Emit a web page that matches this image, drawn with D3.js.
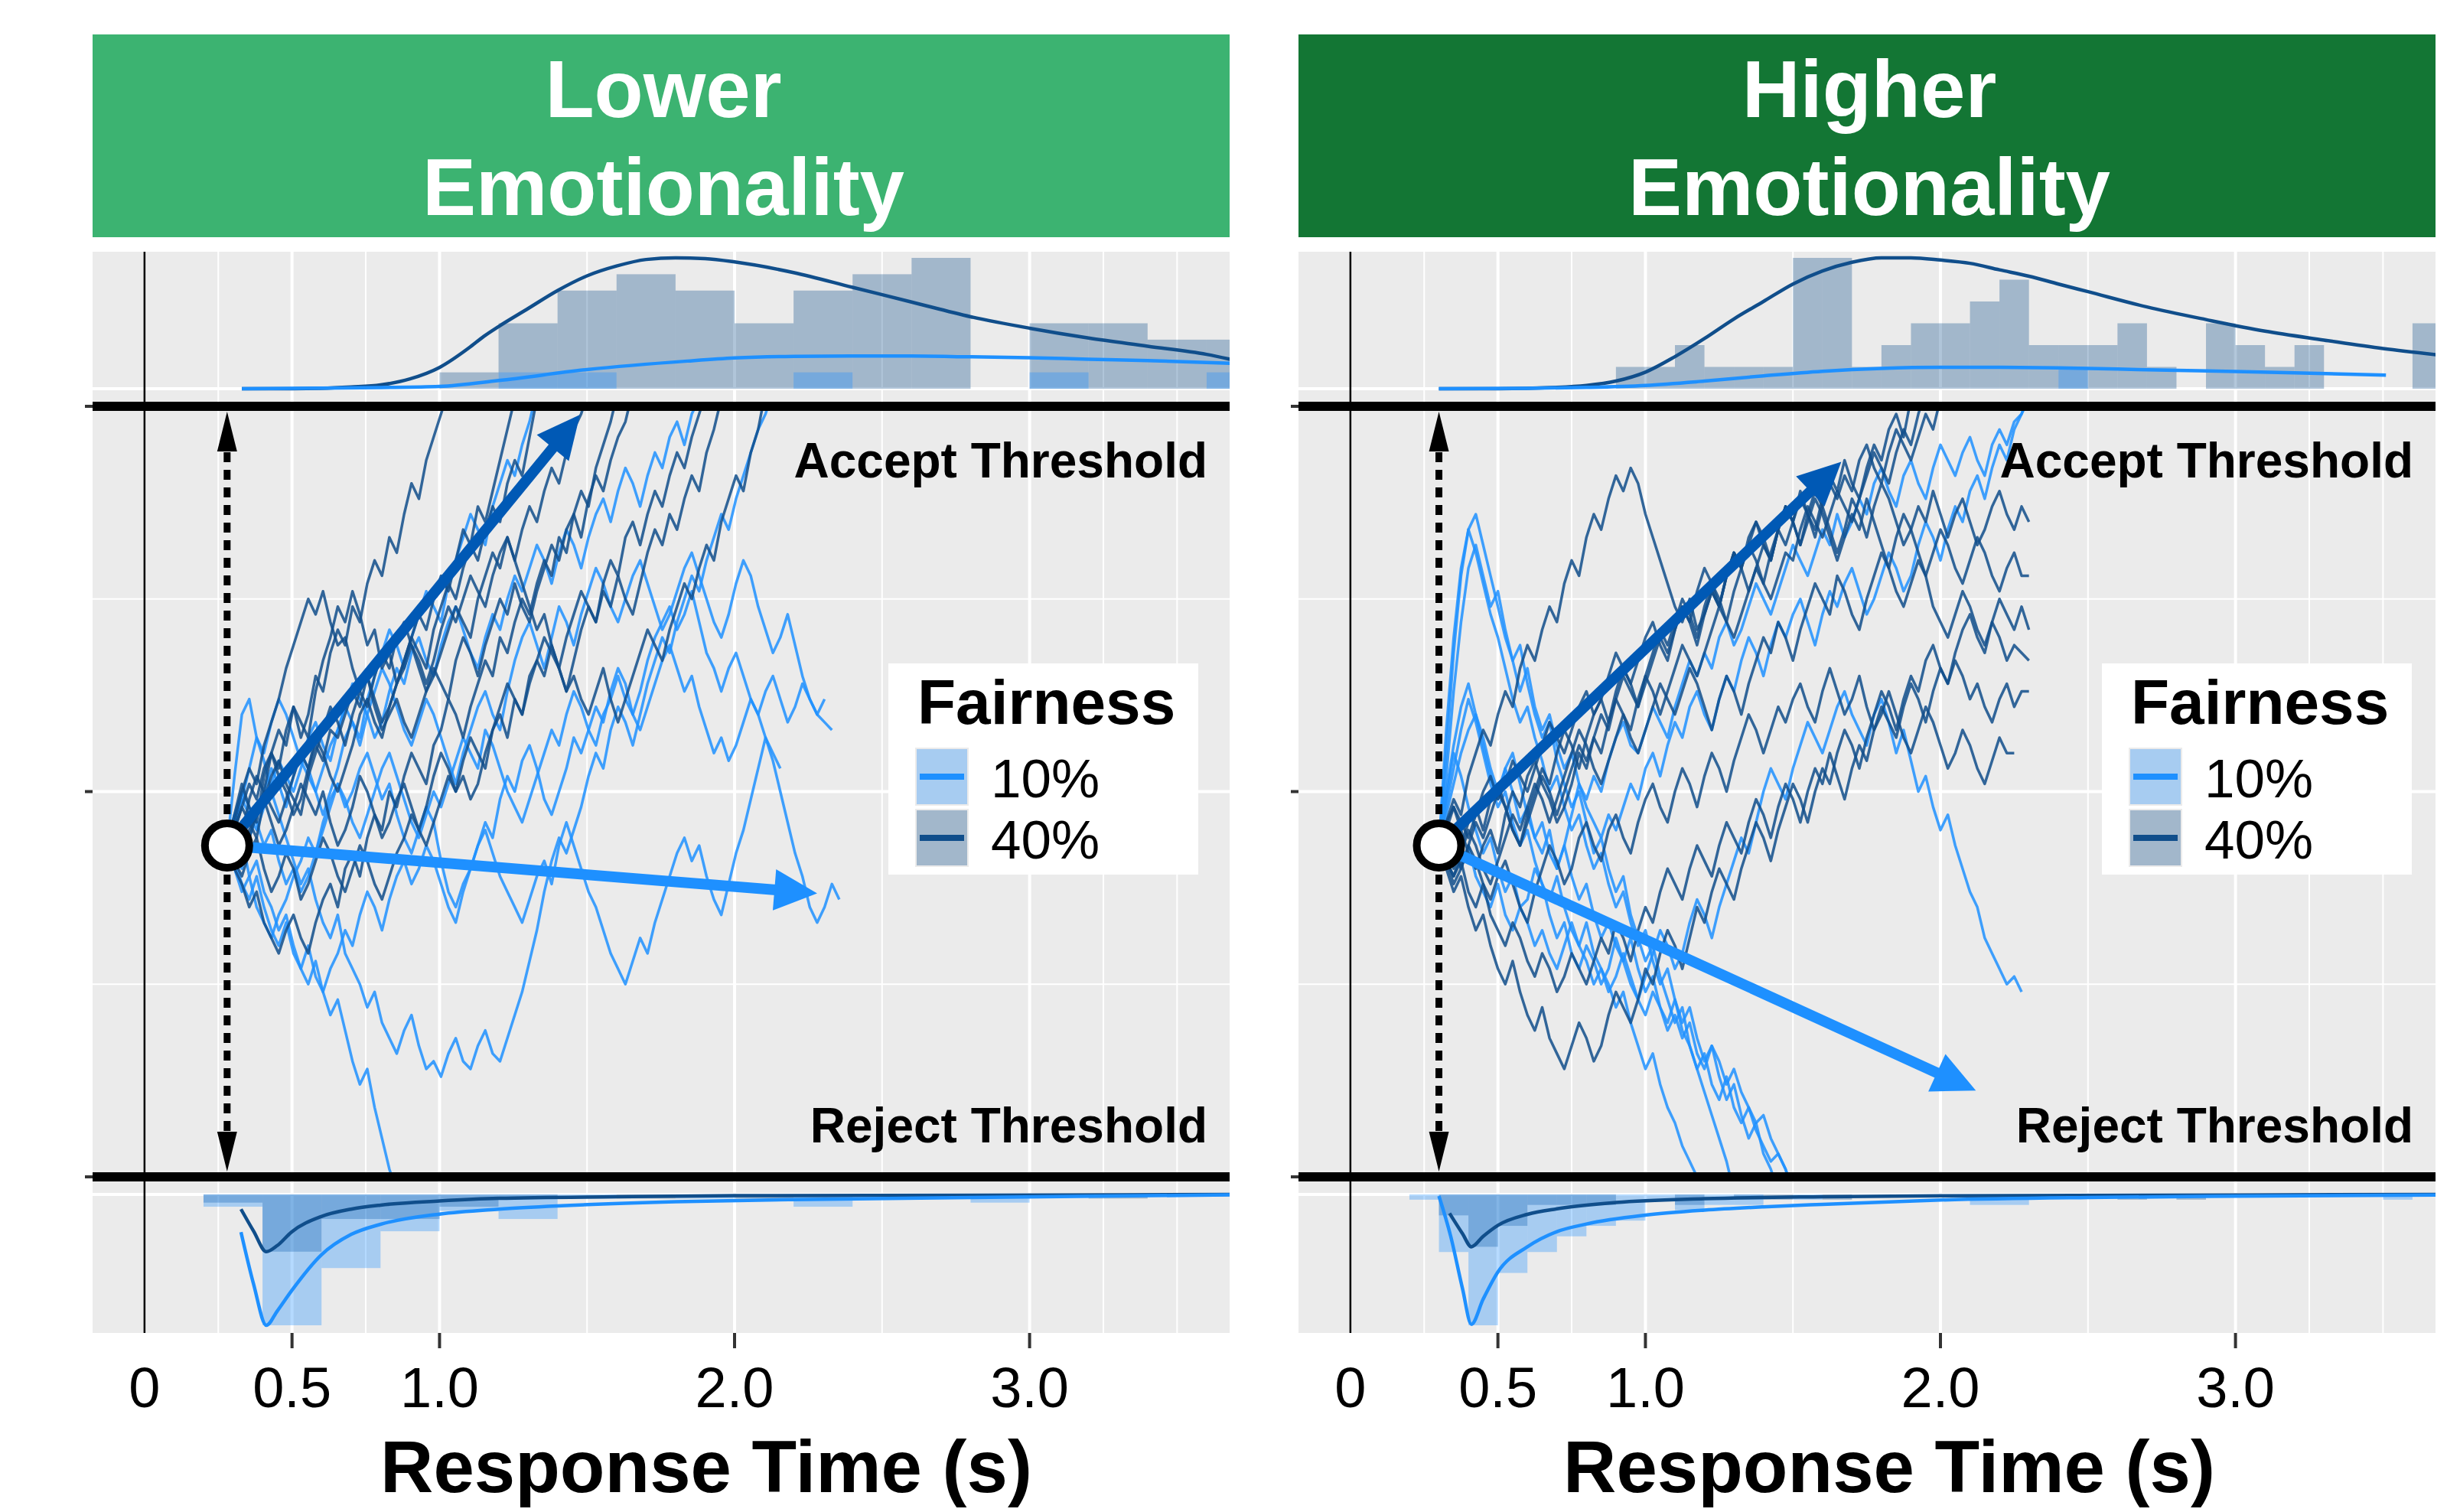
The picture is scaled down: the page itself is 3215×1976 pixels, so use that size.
<!DOCTYPE html>
<html>
<head>
<meta charset="utf-8">
<script src="https://cdn.jsdelivr.net/npm/d3@7"></script>
<style>
body { margin: 0; background: #fff; }
svg { display: block; font-family: "Liberation Sans", Arial, Helvetica, sans-serif; }
</style>
</head>
<body>
<div class="chart"></div>
<script>
var width = 3215;
var height = 1976;
var panelW = 1486;

// ---- data ----
var stripLabels = [["Lower", "Emotionality"], ["Higher", "Emotionality"]];
var fairness = ["10%", "40%"];
var xTicks = [0, 0.5, 1, 2, 3];
var xTickLabels = ["0", "0.5", "1.0", "2.0", "3.0"];
var xMajorGrid = [0.5, 1, 2, 3];
var xMinorGrid = [0.25, 0.75, 1.5, 2.5, 3.25, 3.5];
var yMajor = [0, 0.5, 1];
var yMinor = [0.25, 0.75];
var nonDecision = [0.28, 0.30];   // s, start of accumulation
var startPoint = [0.43, 0.43];    // relative to threshold separation
var walkStep = 0.025;             // s between trace samples

// drift arrow end points [time, evidence]
var lowerArrow40 = [1.476, 0.989];
var lowerArrow10 = [2.28, 0.368];
var higherArrow40 = [1.664, 0.928];
var higherArrow10 = [2.12, 0.112];

// histogram counts (accept = top margin, reject = bottom margin)
var lowerAccept40 = [1, 4, 6, 7, 6, 4, 6, 7, 8, 0, 4, 4, 3, 3];      // 0.2 s bins from 1.0 s
var lowerAccept10 = [0, 1, 1, 0, 0, 0, 1, 0, 0, 0, 1, 0, 0, 1];
var lowerReject40 = [2, 14, 6, 6, 3, 1, 0, 1, 0, 1, 0, 0, 0, 0, 0, 1]; // 0.2 s bins from 0.2 s
var lowerReject10 = [3, 32, 18, 9, 4, 6, 1, 0, 1, 0, 3, 0, 0, 2, 0, 0];
var higherAccept40 = [1, 1, 2, 1, 1, 1, 6, 6, 1, 2, 3, 3, 4, 5, 2, 2, 2, 3, 1, 0, 3, 2, 1, 2, 0, 0, 0, 3]; // 0.1 s bins from 0.9 s
var higherAccept10 = [0, 0, 0, 0, 0, 0, 0, 0, 0, 0, 0, 0, 0, 0, 0, 1];
var higherReject40 = [0, 4, 10, 6, 2, 2, 2, 0, 0, 2, 0, 1, 1, 0, 1, 0, 0, 0, 0, 0, 0, 0, 0, 0, 1, 0, 1]; // 0.1 s bins from 0.2 s
var higherReject10 = [1, 11, 25, 15, 11, 8, 6, 5, 1, 3, 2, 2, 0, 1, 0, 0, 0, 0, 0, 2, 2, 0, 0, 0, 0, 0, 0, 0, 0, 0, 0, 0, 0, 1];

// predicted densities (time, height in count units)
var lowerAcceptT40 = [0.33, 0.5, 0.6, 0.7, 0.8, 0.9, 1.0, 1.1, 1.15, 1.2, 1.3, 1.4, 1.5, 1.6, 1.7, 1.8, 1.9, 2.0, 2.2, 2.4, 2.6, 2.8, 3.0, 3.2, 3.4, 3.6, 3.68];
var lowerAcceptD40 = [0, 0, 0.02, 0.1, 0.23, 0.6, 1.3, 2.5, 3.2, 3.8, 4.9, 6.0, 6.9, 7.5, 7.9, 8.0, 7.95, 7.75, 7.1, 6.2, 5.3, 4.4, 3.7, 3.1, 2.6, 2.1, 1.8];
var lowerAcceptT10 = [0.33, 0.6, 0.8, 1.0, 1.2, 1.5, 1.84, 2.0, 2.2, 2.4, 2.6, 2.8, 3.0, 3.2, 3.4, 3.68];
var lowerAcceptD10 = [0, 0.03, 0.07, 0.14, 0.5, 1.17, 1.69, 1.88, 1.98, 2.0, 2.0, 1.95, 1.9, 1.8, 1.72, 1.56];
var lowerRejectT40 = [0.327, 0.37, 0.413, 0.45, 0.498, 0.599, 0.70, 0.80, 1.0, 1.2, 1.6, 2.0, 2.8, 3.68];
var lowerRejectD40 = [3.6, 9, 14, 12.5, 9.2, 5.4, 3.6, 2.6, 1.6, 0.94, 0.56, 0.3, 0.2, 0];
var lowerRejectT10 = [0.327, 0.37, 0.413, 0.45, 0.498, 0.599, 0.70, 0.80, 1.0, 1.2, 1.4, 1.8, 2.2, 2.8, 3.68];
var lowerRejectD10 = [9.2, 22, 32, 28.5, 23.6, 14.8, 9.8, 7.3, 4.8, 3.6, 2.8, 1.8, 1.25, 0.75, 0.1];
var higherAcceptT40 = [0.3, 0.5, 0.7, 0.8, 0.9, 1.0, 1.1, 1.2, 1.3, 1.4, 1.5, 1.6, 1.7, 1.8, 1.9, 2.0, 2.1, 2.2, 2.3, 2.4, 2.5, 2.7, 2.9, 3.1, 3.3, 3.5, 3.68];
var higherAcceptD40 = [0, 0, 0.06, 0.15, 0.35, 0.76, 1.47, 2.3, 3.2, 4.0, 4.8, 5.4, 5.8, 6.0, 6.0, 5.9, 5.75, 5.45, 5.16, 4.8, 4.45, 3.75, 3.17, 2.64, 2.23, 1.84, 1.56];
var higherAcceptT10 = [0.3, 0.6, 0.8, 1.0, 1.2, 1.4, 1.6, 1.8, 2.0, 2.2, 2.4, 2.6, 2.8, 3.0, 3.2, 3.51];
var higherAcceptD10 = [0, 0.02, 0.06, 0.15, 0.35, 0.59, 0.8, 0.93, 0.98, 0.98, 0.96, 0.9, 0.84, 0.79, 0.73, 0.62];
var higherRejectT40 = [0.336, 0.38, 0.41, 0.45, 0.5, 0.6, 0.7, 0.9, 1.2, 1.6, 2.0, 3.0, 3.68];
var higherRejectD40 = [3.6, 7.5, 10, 8, 5.9, 3.8, 2.75, 1.55, 0.82, 0.43, 0.24, 0.1, 0];
var higherRejectT10 = [0.30, 0.34, 0.38, 0.41, 0.45, 0.5, 0.6, 0.7, 0.8, 1.0, 1.2, 1.4, 1.6, 2.0, 2.5, 3.0, 3.68];
var higherRejectD10 = [0.3, 8, 18, 24.8, 20, 14.8, 10, 7.1, 5.65, 3.96, 3.0, 2.37, 1.9, 1.06, 0.58, 0.34, 0.1];

// example evidence traces, % of threshold separation, one sample per walkStep
var lowerWalks40 = [
  [43,46,44,49,52,50,55,53,58,61,57,60,65,63,68,71,69,74,72,77,80,78,83,81,86,90,88,93,96,99,102],
  [43,47,51,48,46,52,55,58,56,61,59,57,63,67,70,74,72,76,73,69,71,66,68,64,67,70,73,71,75,78,76,80,84,82,87,85,89,93,97,101],
  [43,40,38,35,37,33,31,29,32,34,31,29,33,36,38,35,40,42,39,44,47,45,50,48,52,55,53,51,56,58,62,60,57,61,64,67,65,70,68,72,75,73,77,80,78,83,81,86,89,87,92,95,98,102],
  [43,45,42,44,47,49,46,43,45,48,51,49,47,50,46,43,45,48,52,50,47,44,46,49,51,48,45,48,52,55,53,50,52,49,51,55,58,60,57,62,60,64,67,65,69,66,63,67,71,74,72,76,74,78,75,73,77,81,84,82,86,84,88,91,89,94,97,101],
  [43,45,48,46,44,49,52,54,51,49,47,52,55,58,61,59,56,60,63,61,65,68,66,70,72,69,66,63,65,68,71,74,72,70,75,78,81,79,83,80,84,87,85,89,92,90,94,97,99,102],
  [43,46,50,53,51,56,59,62,66,69,72,75,73,76,72,69,70,66,63,65,61,58,60,62,59,57,60,63,66,64,62,67,70,68,65,69,72,75,73,77,74,72,76,79,82,80,84,86,83,88,91,89,93,96,98,102],
  [43,41,39,42,44,40,37,39,42,40,36,38,41,44,42,39,37,40,43,41,38,36,39,42,44,47,45,43,46,49,52,50,54,57,55,53,58,61,64,62,60,65,67,70,68,66,70,73,76,74,72,77,80,78,83,85,82,86,89,87,91,94,92,96,99,102],
  [43,45,48,51,49,53,55,52,50,47,49,53,56,54,58,57,60,63,61,65,62,59,61,64,67,70,68,66,71,74,77,75,79,82,80,84,87,85,90,93,91,96,101],
  [43,44,42,45,47,50,48,46,49,52,55,53,57,55,52,50,53,56,60,62,59,57,61,64,66,69,67,64,67,71,74,72,75,78,76,74,78,81,83,80,77,74,71,73,69,66,63,65,62,60,63,66,62,59,62,65,68,71,69,67,71,74,77,75,79,82,80,85,88,91,89,94,97,102]
];
var lowerWalks10 = [
  [43,47,44,39,41,37,35,32,34,30,27,25,28,24,21,23,19,15,12,14,9,5,1,-2],
  [43,52,60,62,57,54,50,47,44,41,38,40,36,33,31,34,29,27,25,22,24,20,18,16,19,21,17,14,15,13,16,18,15,14,17,19,16,15,18,21,24,28,32,37,41,44,42,45,48,52,55,53,58,61,59,56,60,64,67,70,68,72,75,78,76,80,83,86,84,88,91,94,97,99,102],
  [43,40,37,39,35,33,31,34,36,39,41,44,42,46,49,51,48,50,53,55,52,49,51,47,44,42,45,48,46,41,37,35,38,40,43,45,42,39,37,35,33,36,39,41,38,43,46,43,40,37,35,32,29,27,25,28,31,29,33,36,39,42,44,41,43,39,36,34,38,42,45,49,53,57,54,50,46,42,39,35,33,35,38,36],
  [43,42,40,44,47,50,53,51,48,52,55,53,50,47,50,53,57,59,56,60,63,66,64,61,58,56,59,62,60,57,54,51,55,58,61,63,60,58,63,67,70,72,69,66,70,74,72,69,73,76,79,77,74,72,75,78,80,77,74,71,73,76,79,81,78,75,72,70,73,77,80,78,74,71,68,70,73,69,65,62,60,59,58],
  [43,46,49,47,45,48,51,54,52,50,53,57,59,56,54,58,61,64,62,60,57,59,63,66,64,68,70,67,65,69,72,74,71,68,66,70,73,71,75,78,76,79,82,80,77,81,84,82,79,83,86,88,85,89,92,90,87,91,94,92,96,98,95,99,101],
  [43,41,38,36,39,35,32,30,33,29,27,30,26,24,27,29,32,30,34,37,35,32,36,39,41,38,40,43,41,38,35,33,37,40,43,46,44,49,52,50,54,56,53,49,47,50,53,57,55,58,61,59,63,66,64,60,58,61,64,67,69,66,63,65,61,58,55,57,54,56,59,62,60,57,55,53],
  [43,46,49,53,57,55,59,62,60,57,54,52,50,53,56,58,61,59,57,62,65,68,71,69,66,70,73,76,74,72,77,80,83,86,84,82,87,90,93,91,95,98,102],
  [43,47,50,48,46,43,45,41,38,40,37,39,42,45,48,51,49,46,44,47,50,53,55,52,49,46,44,47,50,48,51,54,57,55,53,58,56,53,50,48,46,49,52,55,58,56,60,63,61,58,56,60,62,65,62,60,63,67,70,72,74,71,73,76,72,68,66,63,66,68,65,62,60,63,65,62,59,61,64,62,60,62]
];
var higherWalks40 = [
  [43,40,37,39,35,32,34,30,27,25,28,24,21,19,22,18,16,14,17,20,18,15,17,21,24,22,20,23,27,25,29,32,30,27,31,35,33,37,40,38,36,40,43,46,44,41,45,48,51,49,46,50,53,51,55,58,56,53,57,60,63,61,58,62,65,63,67,69,66,64,68,71,73,70,68,72,75,73,71,74,71],
  [43,45,48,46,44,47,50,52,49,51,54,52,50,53,56,59,57,55,58,61,63,60,62,65,68,66,64,67,70,72,69,67,71,74,72,76,79,77,74,78,81,79,83,85,82,80,84,87,85,89,86,84,88,91,89,93,90,88,92,95,93,97,99,96,101],
  [43,41,39,42,45,43,40,38,41,44,47,45,48,51,49,46,49,52,55,58,56,53,51,54,57,60,58,62,65,63,60,63,66,69,67,65,68,71,74,72,70,73,76,79,77,75,78,81,80,84,87,85,83,86,89,87,85,88,91,94,92,90,94,97,95,99,102],
  [43,46,48,45,42,40,43,45,42,47,50,48,52,54,51,49,46,48,51,55,53,57,55,59,62,60,57,55,58,61,64,62,60,63,66,64,61,58,62,65,63,60,64,67,70,68,72,70,67,71,74,77,75,73,78,76,73,71,75,78,81,79,76,74,77,80,78,74,72,70,73,76,74,71,69,72,70,67,69,68,67],
  [43,41,38,40,43,41,38,36,39,41,38,35,33,37,40,43,41,38,40,44,46,43,41,45,47,44,42,46,49,51,48,46,50,53,51,48,52,55,53,50,54,57,60,58,55,58,61,59,62,64,61,59,63,66,63,60,62,65,61,58,60,63,60,57,55,58,61,59,56,53,55,58,56,53,51,54,57,55,55],
  [43,46,49,47,52,55,58,56,60,63,61,66,69,67,71,74,72,77,80,78,83,86,84,88,91,89,92,90,86,83,80,77,74,72,75,71,73,76,74,78,81,79,82,85,83,80,84,87,85,82,86,89,87,84,81,84,88,86,83,87,90,88,85,82,84,87,85,89,86,83,86,88,85,82,84,87,89,86,84,87,85],
  [43,45,43,40,43,46,44,47,50,48,45,43,46,49,52,50,47,50,53,56,54,57,60,58,62,65,63,61,64,67,70,68,71,74,72,69,73,76,74,78,81,79,76,79,82,80,84,87,85,82,85,88,86,83,80,83,86,84,88,85,82,79,83,86,84,81,78,81,84,82,79,77,80,83,81,78,76,79,81,78,78],
  [43,42,40,43,46,48,45,49,51,48,45,43,47,50,53,51,55,58,56,53,57,60,62,59,63,66,64,61,65,68,71,69,72,75,73,70,74,77,75,72,76,79,82,80,77,81,84,82,85,88,86,83,87,90,88,91,89,93,95,92,90,94,97,95,93,96,99,97,101],
  [43,41,39,41,37,35,38,34,32,30,33,31,28,26,29,27,24,26,29,27,25,28,31,29,33,31,28,32,35,33,37,40,38,36,40,43,41,39,43,46,44,42,46,49,47,44,48,51,49,46,50,53,51,55,52,49,53,56,54,58,61,59,57,61,64,62,59,63,66,64,67,65,62,64,61,59,62,64,61,63,63]
];
var higherWalks10 = [
  [43,55,68,78,84,81,77,73,70,66,62,59,61,57,54,50,52,48,45,47,43,40,42,38,35,37,33,30,32,28,25,27,23,20,22,18,15,17,13,10,12,8,5,7,3,1,-2],
  [43,52,63,72,79,82,78,74,76,71,67,69,64,60,57,59,54,51,48,50,46,42,44,40,37,39,34,31,28,30,26,23,20,22,17,14,11,8,5,2,-2],
  [43,48,53,58,62,59,55,51,48,50,46,43,45,41,38,36,39,35,32,30,33,29,27,25,22,24,20,17,14,16,12,9,7,4,2,0,-3],
  [43,50,56,61,64,60,56,52,49,53,50,46,48,44,42,45,40,43,47,51,49,52,50,54,57,59,56,55,58,61,59,57,61,64,67,65,68,66,70,72,69,71,74,77,75,73,76,79,82,80,78,81,84,82,86,83,85,88,86,90,92,89,87,91,93,90,88,92,95,93,91,94,96,93,91,95,97,95,98,99,102],
  [43,49,55,52,48,45,42,44,40,37,39,35,36,40,38,34,31,33,29,27,30,28,25,27,31,28,25,23,26,29,32,30,27,29,33,36,34,31,35,38,41,44,42,46,50,53,51,49,53,56,59,57,55,58,61,63,60,58,56,60,62,59,55,58,54,50,52,48,45,47,43,40,37,35,31,29,27,25,26,24],
  [43,58,70,79,84,86,82,78,74,70,67,63,66,61,58,60,56,53,55,51,48,46,44,47,45,48,51,49,53,55,52,56,59,57,61,63,60,58,62,65,63,67,70,68,65,69,72,70,73,75,72,69,73,76,74,77,79,76,73,75,78,81,79,76,78,82,85,83,80,84,87,85,89,91,88,92,95,93,97,99,101],
  [43,47,51,55,58,60,57,53,50,53,55,51,47,44,46,42,40,43,39,36,38,34,31,33,30,28,31,27,24,26,22,20,23,19,17,14,16,12,10,13,9,7,9,6,4,2,3,1,-2],
  [43,45,42,40,43,39,37,35,38,34,32,35,33,30,32,29,27,30,33,30,28,25,27,24,26,29,26,23,21,24,22,19,21,18,20,16,14,17,15,12,14,11,9,7,8,5,3,1,-2]
];

// ---- colours ----
var col10 = "#1E90FF";
var col40 = "#104E8B";
var arrowCol40 = "#0059B5";
var panelBg = "#EBEBEB";

function zip(a, b){ return a.map(function(v, i){ return [v, b[i]]; }); }

var panels = [
  { left: 121, strip: stripLabels[0], stripColor: "#3CB371", t0: nonDecision[0], z: startPoint[0],
    topMax: 8, botMax: 32,
    acc40: { start: 1.0, w: 0.2, n: lowerAccept40 }, acc10: { start: 1.0, w: 0.2, n: lowerAccept10 },
    rej40: { start: 0.2, w: 0.2, n: lowerReject40 }, rej10: { start: 0.2, w: 0.2, n: lowerReject10 },
    dAcc40: zip(lowerAcceptT40, lowerAcceptD40), dAcc10: zip(lowerAcceptT10, lowerAcceptD10),
    dRej40: zip(lowerRejectT40, lowerRejectD40), dRej10: zip(lowerRejectT10, lowerRejectD10),
    walks40: lowerWalks40, walks10: lowerWalks10, arrow40: lowerArrow40, arrow10: lowerArrow10,
    legendX: 1040, titleX: 802 },
  { left: 1697, strip: stripLabels[1], stripColor: "#137634", t0: nonDecision[1], z: startPoint[1],
    topMax: 6, botMax: 25,
    acc40: { start: 0.9, w: 0.1, n: higherAccept40 }, acc10: { start: 0.9, w: 0.1, n: higherAccept10 },
    rej40: { start: 0.2, w: 0.1, n: higherReject40 }, rej10: { start: 0.2, w: 0.1, n: higherReject10 },
    dAcc40: zip(higherAcceptT40, higherAcceptD40), dAcc10: zip(higherAcceptT10, higherAcceptD10),
    dRej40: zip(higherRejectT40, higherRejectD40), dRej10: zip(higherRejectT10, higherRejectD10),
    walks40: higherWalks40, walks10: higherWalks10, arrow40: higherArrow40, arrow10: higherArrow10,
    legendX: 1050, titleX: 772 }
];

var svg = d3.select(".chart").append("svg").attr("width", width).attr("height", height);
svg.append("rect").attr("width", width).attr("height", height).attr("fill", "#fff");
var defs = svg.append("defs");

function draw_hist(g, x, y, h, color){
  var bars = h.n.map(function(c, i){ return { t: h.start + i * h.w, c: c }; }).filter(function(d){ return d.c > 0; });
  g.selectAll(null).data(bars).enter().append("rect")
    .attr("x", function(d){ return x(d.t); })
    .attr("width", function(d){ return x(d.t + h.w) - x(d.t); })
    .attr("y", function(d){ return Math.min(y(0), y(d.c)); })
    .attr("height", function(d){ return Math.abs(y(d.c) - y(0)); })
    .attr("fill", color).attr("fill-opacity", 0.33);
}

function draw_density(g, x, y, pts, color){
  var line = d3.line().x(function(d){ return x(d[0]); }).y(function(d){ return y(d[1]); }).curve(d3.curveMonotoneX);
  g.append("path").attr("d", line(pts)).attr("fill", "none").attr("stroke", color).attr("stroke-width", 4.5);
}

function draw_walks(g, x, y, walks, t0, color){
  var line = d3.line().x(function(d, i){ return x(t0 + i * walkStep); }).y(function(d){ return y(d / 100); });
  walks.forEach(function(w){
    g.append("path").attr("d", line(w)).attr("fill", "none")
      .attr("stroke", color).attr("stroke-opacity", 0.85).attr("stroke-width", 3.5)
      .attr("stroke-linejoin", "round");
  });
}

function draw_arrow(g, x1, y1, x2, y2, color, lw, len, hw){
  var a = Math.atan2(y2 - y1, x2 - x1);
  var bx = x2 - len * Math.cos(a), by = y2 - len * Math.sin(a);
  g.append("line").attr("x1", x1).attr("y1", y1)
    .attr("x2", bx + 2 * Math.cos(a)).attr("y2", by + 2 * Math.sin(a))
    .attr("stroke", color).attr("stroke-width", lw);
  g.append("polygon")
    .attr("points", [[x2, y2], [bx + hw * Math.sin(a), by - hw * Math.cos(a)], [bx - hw * Math.sin(a), by + hw * Math.cos(a)]].join(" "))
    .attr("fill", color);
}

function build_panel(p, k){
  var g = svg.append("g").attr("transform", "translate(" + p.left + ",0)");
  var x = d3.scaleLinear().domain([-0.176, 3.678]).range([0, panelW]);
  var yMain = d3.scaleLinear().domain([0, 1]).range([1538, 531]);
  var yTop = d3.scaleLinear().domain([0, p.topMax]).range([508, 337]);
  var yBot = d3.scaleLinear().domain([0, p.botMax]).range([1561, 1732]);

  defs.append("clipPath").attr("id", "clipP" + k).append("rect")
    .attr("x", 0).attr("y", 329).attr("width", panelW).attr("height", 1413);
  defs.append("clipPath").attr("id", "clipM" + k).append("rect")
    .attr("x", 0).attr("y", yMain(1)).attr("width", panelW).attr("height", yMain(0) - yMain(1));

  // strip
  g.append("rect").attr("x", 0).attr("y", 45).attr("width", panelW).attr("height", 265).attr("fill", p.stripColor);
  g.selectAll(null).data(p.strip).enter().append("text")
    .attr("x", 746).attr("y", function(d, i){ return 153 + i * 128; })
    .attr("text-anchor", "middle").attr("font-size", 105).attr("font-weight", "bold")
    .attr("fill", "#fff").text(function(d){ return d; });

  // background and grid
  g.append("rect").attr("x", 0).attr("y", 329).attr("width", panelW).attr("height", 1413).attr("fill", panelBg);
  var grid = g.append("g").attr("stroke", "#fff");
  xMinorGrid.forEach(function(t){
    grid.append("line").attr("x1", x(t)).attr("x2", x(t)).attr("y1", 329).attr("y2", 1742).attr("stroke-width", 2);
  });
  xMajorGrid.forEach(function(t){
    grid.append("line").attr("x1", x(t)).attr("x2", x(t)).attr("y1", 329).attr("y2", 1742).attr("stroke-width", 4);
  });
  yMinor.forEach(function(e){
    grid.append("line").attr("x1", 0).attr("x2", panelW).attr("y1", yMain(e)).attr("y2", yMain(e)).attr("stroke-width", 2);
  });
  [yMain(0.5), yTop(0), yBot(0)].forEach(function(v){
    grid.append("line").attr("x1", 0).attr("x2", panelW).attr("y1", v).attr("y2", v).attr("stroke-width", 4);
  });
  g.append("line").attr("x1", x(0)).attr("x2", x(0)).attr("y1", 329).attr("y2", 1742)
    .attr("stroke", "#000").attr("stroke-width", 2.5);

  // margins: histograms and densities
  var marg = g.append("g").attr("clip-path", "url(#clipP" + k + ")");
  draw_hist(marg, x, yTop, p.acc40, col40);
  draw_hist(marg, x, yTop, p.acc10, col10);
  draw_hist(marg, x, yBot, p.rej40, col40);
  draw_hist(marg, x, yBot, p.rej10, col10);
  draw_density(marg, x, yTop, p.dAcc40, col40);
  draw_density(marg, x, yTop, p.dAcc10, col10);
  draw_density(marg, x, yBot, p.dRej40, col40);
  draw_density(marg, x, yBot, p.dRej10, col10);

  // evidence traces
  var walks = g.append("g").attr("clip-path", "url(#clipM" + k + ")");
  draw_walks(walks, x, yMain, p.walks10, p.t0, col10);
  draw_walks(walks, x, yMain, p.walks40, p.t0, col40);

  // thresholds
  [0, 1].forEach(function(e){
    g.append("line").attr("x1", 0).attr("x2", panelW).attr("y1", yMain(e)).attr("y2", yMain(e))
      .attr("stroke", "#000").attr("stroke-width", 12);
  });

  // non-decision / boundary separation arrow
  var xc = x(p.t0);
  g.append("line").attr("x1", xc).attr("x2", xc).attr("y1", yMain(1) + 60).attr("y2", yMain(0) - 60)
    .attr("stroke", "#000").attr("stroke-width", 9).attr("stroke-dasharray", "13,10");
  [[yMain(1) + 7, 1], [yMain(0) - 7, -1]].forEach(function(d){
    g.append("polygon")
      .attr("points", [[xc, d[0]], [xc - 13, d[0] + d[1] * 52], [xc + 13, d[0] + d[1] * 52]].join(" "))
      .attr("fill", "#000");
  });

  // drift arrows
  var cx = x(p.t0), cy = yMain(p.z);
  draw_arrow(g, cx, cy, x(p.arrow40[0]), yMain(p.arrow40[1]), arrowCol40, 14, 56, 27);
  draw_arrow(g, cx, cy, x(p.arrow10[0]), yMain(p.arrow10[1]), col10, 14, 56, 27);
  g.append("circle").attr("cx", cx).attr("cy", cy).attr("r", 29)
    .attr("fill", "#fff").attr("stroke", "#000").attr("stroke-width", 10);

  // threshold labels
  g.append("text").attr("x", 1457).attr("y", 624).attr("text-anchor", "end")
    .attr("font-size", 64).attr("font-weight", "bold").text("Accept Threshold");
  g.append("text").attr("x", 1457).attr("y", 1493).attr("text-anchor", "end")
    .attr("font-size", 64).attr("font-weight", "bold").text("Reject Threshold");

  // legend
  var lg = g.append("g").attr("transform", "translate(" + p.legendX + ",867)");
  lg.append("rect").attr("width", 405).attr("height", 276).attr("fill", "#fff");
  lg.append("text").attr("x", 38).attr("y", 79).attr("font-size", 82).attr("font-weight", "bold").text("Fairness");
  fairness.forEach(function(f, i){
    var ky = 112 + i * 80;
    var c = i === 0 ? col10 : col40;
    lg.append("rect").attr("x", 35).attr("y", ky - 2).attr("width", 70).attr("height", 76).attr("fill", panelBg);
    lg.append("rect").attr("x", 37).attr("y", ky).attr("width", 66).attr("height", 72).attr("fill", c).attr("fill-opacity", 0.33);
    lg.append("line").attr("x1", 41).attr("x2", 99).attr("y1", ky + 36).attr("y2", ky + 36)
      .attr("stroke", c).attr("stroke-width", 8);
    lg.append("text").attr("x", 134).attr("y", ky + 63).attr("font-size", 71).text(f);
  });

  // axes
  yMajor.forEach(function(e){
    g.append("line").attr("x1", -10).attr("x2", 0).attr("y1", yMain(e)).attr("y2", yMain(e))
      .attr("stroke", "#333").attr("stroke-width", 4);
  });
  xTicks.forEach(function(t, i){
    if (t > 0) {
      g.append("line").attr("x1", x(t)).attr("x2", x(t)).attr("y1", 1742).attr("y2", 1762)
        .attr("stroke", "#333").attr("stroke-width", 4);
    }
    g.append("text").attr("x", x(t)).attr("y", 1839).attr("text-anchor", "middle")
      .attr("font-size", 74).attr("fill", "#000").text(xTickLabels[i]);
  });
  g.append("text").attr("x", p.titleX).attr("y", 1950).attr("text-anchor", "middle")
    .attr("font-size", 96).attr("font-weight", "bold").text("Response Time (s)");
}

panels.forEach(build_panel);
</script>
</body>
</html>
